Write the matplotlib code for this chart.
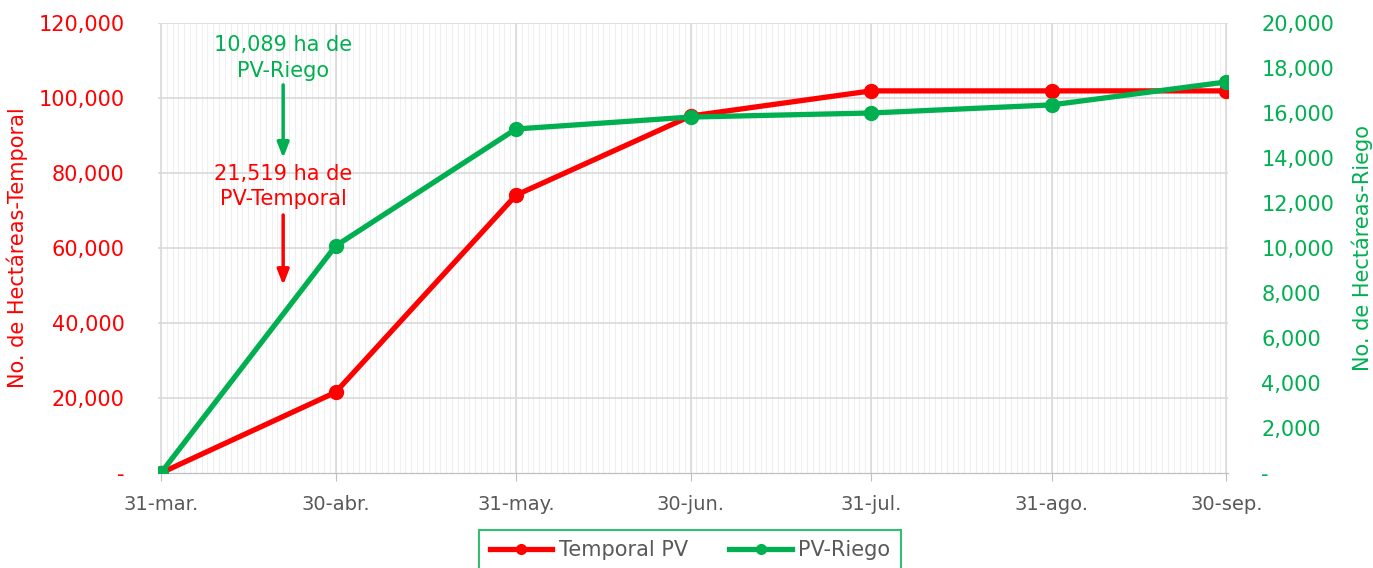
import matplotlib
matplotlib.use("Agg")
import matplotlib.pyplot as plt
import matplotlib.dates as mdates
from matplotlib.ticker import FuncFormatter, FixedLocator
import datetime as dt

dates = ["2023-03-31", "2023-04-30", "2023-05-31", "2023-06-30", "2023-07-31", "2023-08-31", "2023-09-30"]
date_labels = ["31-mar.", "30-abr.", "31-may.", "30-jun.", "31-jul.", "31-ago.", "30-sep."]
temporal = [0, 21519, 74100, 95200, 101900, 101900, 101900]
riego = [0, 10089, 15290, 15820, 16000, 16360, 17380]

RED = "#FF0000"
GREEN = "#00B050"
GRAY = "#595959"
plt.rcParams['font.family'] = ['DejaVu Sans']

x = [mdates.date2num(dt.datetime.strptime(d, "%Y-%m-%d")) for d in dates]

fig = plt.figure(figsize=(13.73, 5.68), dpi=100)
ax = fig.add_axes([158/1373, 1-473/568, (1228-158)/1373, (473-23)/568])
ax2 = ax.twinx()

ax.set_xlim(x[0]-0.5, x[-1]+0.3)
ax.set_ylim(0, 120000)
ax2.set_ylim(0, 20000)

# grid
for d in range(int(x[0]), int(x[-1])+1):
    ax.axvline(d, color="#EFEFEF", lw=0.8, zorder=0)
for xv in x:
    ax.axvline(xv, color="#D9D9D9", lw=1.2, zorder=0.5)
for yv in range(20000, 120001, 20000):
    ax.axhline(yv, color="#D9D9D9", lw=1.2, zorder=0.5)

l1, = ax.plot(x, temporal, color=RED, lw=3.8, marker="o", ms=10, zorder=3, label="Temporal PV")
l2, = ax2.plot(x, riego, color=GREEN, lw=3.8, marker="o", ms=10, zorder=3, label="PV-Riego")

fmt = lambda v, p: "-" if v == 0 else f"{int(v):,}"
ax.yaxis.set_major_locator(FixedLocator(range(0, 120001, 20000)))
ax.yaxis.set_major_formatter(FuncFormatter(fmt))
ax2.yaxis.set_major_locator(FixedLocator(range(0, 20001, 2000)))
ax2.yaxis.set_major_formatter(FuncFormatter(fmt))
ax.set_xticks(x)
ax.set_xticklabels(date_labels)

ax.tick_params(axis="y", colors=RED, labelsize=15, length=0, pad=24)
ax2.tick_params(axis="y", colors=GREEN, labelsize=15, length=0, pad=24)
ax.tick_params(axis="x", colors="#BFBFBF", labelcolor=GRAY, labelsize=14, length=6, pad=10)

for a in (ax, ax2):
    for s in ["top", "left", "right"]:
        a.spines[s].set_visible(False)
    a.spines["bottom"].set_color("#BFBFBF")

ax.set_ylabel("No. de Hectáreas-Temporal", color=RED, fontsize=15)
ax.yaxis.set_label_coords((28-158)/1070, 0.5)
ax2.set_ylabel("No. de Hectáreas-Riego", color=GREEN, fontsize=15)
ax2.yaxis.set_label_coords((1351-158)/1070, 0.5)

ann_x = mdates.date2num(dt.datetime(2023, 4, 21))
ax.text(ann_x, 110600, "10,089 ha de\nPV-Riego", color=GREEN, fontsize=15, ha="center", va="center", linespacing=1.35)
ax.annotate("", xy=(ann_x, 84000), xytext=(ann_x, 103500),
            arrowprops=dict(arrowstyle="-|>,head_width=0.35,head_length=0.9", color=GREEN, lw=2.5,
                            shrinkA=0, shrinkB=0))
ax.text(ann_x, 76400, "21,519 ha de\nPV-Temporal", color=RED, fontsize=15, ha="center", va="center", linespacing=1.35)
ax.annotate("", xy=(ann_x, 50100), xytext=(ann_x, 68800),
            arrowprops=dict(arrowstyle="-|>,head_width=0.35,head_length=0.9", color=RED, lw=2.5,
                            shrinkA=0, shrinkB=0))

leg = fig.legend(handles=[l1, l2], loc="upper center", bbox_to_anchor=(690/1373, 1-530/568),
                 ncol=2, frameon=True, fontsize=15, handlelength=3, columnspacing=2.0,
                 borderpad=0.5, borderaxespad=0, fancybox=False, markerscale=0.7, handletextpad=0.3)
leg.get_frame().set_edgecolor(GREEN)
leg.get_frame().set_linewidth(1.5)
for t in leg.get_texts():
    t.set_color(GRAY)

fig.savefig("out.png", dpi=100)
